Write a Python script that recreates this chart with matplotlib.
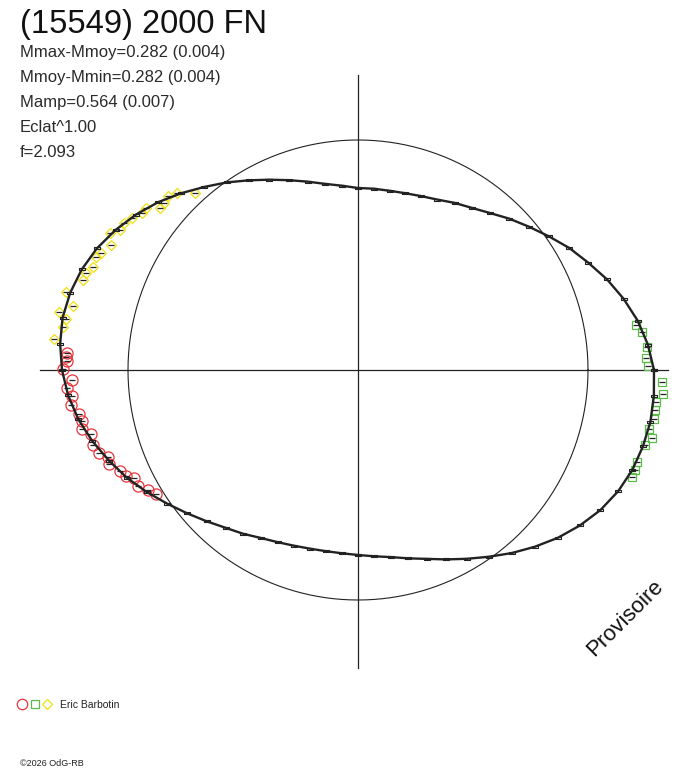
import numpy as np
import matplotlib
matplotlib.use("Agg")
import matplotlib.pyplot as plt
from matplotlib.path import Path

plt.rcParams['font.family'] = ['Liberation Sans', 'DejaVu Sans']

# ---------------- data ----------------
title = "(15549) 2000 FN"
info_lines = ["Mmax-Mmoy=0.282 (0.004)", "Mmoy-Mmin=0.282 (0.004)",
              "Mamp=0.564 (0.007)", "Eclat^1.00", "f=2.093"]
observer = "Eric Barbotin"
copyright_txt = "\u00a92026 OdG-RB"
watermark = "Provisoire"

ref_radius = 230.0  # mean-magnitude reference circle (plot units)

# fitted lightcurve: phase angle (deg) and radius (plot units)
curve_phase = np.arange(0, 360, 5)
curve_radius = [296, 291, 284, 275, 265, 254, 244, 233, 223, 214, 205, 198,
                193, 188, 185, 183, 182, 182, 182, 185, 189, 195, 202, 210,
                219, 229, 239, 250, 261, 271, 280, 288, 294, 298, 300, 299,
                296, 291, 284, 275, 265, 255, 244, 233, 223, 214, 206, 200,
                194, 190, 187, 185, 184, 184, 185, 187, 190, 195, 201, 209,
                218, 228, 239, 250, 261, 271, 280, 287, 292, 295, 297, 297]

# session 1 (red circles)
red_phase = [176.7, 177.5, 178.2, 179.8, 182.0, 183.5, 185.2, 187.0, 189.0,
             190.5, 192.1, 193.5, 195.8, 197.8, 199.2, 200.7, 203.0, 204.6,
             205.7, 207.8, 209.7, 211.5]
red_radius = [291.5, 292.3, 291.1, 295.0, 286.2, 291.6, 287.2, 289.1, 282.4,
              280.7, 282.2, 274.6, 275.4, 272.0, 264.7, 266.2, 258.5, 255.1,
              248.7, 248.7, 241.9, 237.0]

# session 2 (green squares)
green_phase = [9.2, 7.6, 4.6, 2.4, 0.8, 357.7, 355.5, 353.9, 352.3, 350.6,
               348.5, 347.0, 345.4, 341.7, 340.1, 338.7]
green_radius = [281.6, 286.5, 289.9, 288.2, 290.0, 304.2, 305.9, 299.7, 299.7,
                300.0, 296.9, 301.8, 296.6, 293.8, 294.5, 294.2]

# session 3 (yellow diamonds)
yellow_phase = [174.2, 171.7, 170.1, 169.0, 167.3, 165.0, 161.9, 160.4, 158.8,
                156.7, 155.5, 153.2, 151.1, 149.5, 147.9, 146.1, 144.0, 142.6,
                140.7, 139.3, 137.5, 135.6, 132.6]
yellow_radius = [305.6, 298.1, 296.4, 304.6, 292.1, 302.2, 289.4, 288.8, 284.3,
                 285.3, 282.4, 276.8, 283.3, 276.1, 276.3, 272.4, 267.0, 266.8,
                 255.8, 256.0, 257.6, 253.2, 240.6]


def to_xy(phase, radius):
    t = np.deg2rad(np.asarray(phase, dtype=float))
    r = np.asarray(radius, dtype=float)
    return r * np.cos(t), r * np.sin(t)


# ---------------- figure ----------------
W, H = 688, 768
fig = plt.figure(figsize=(W / 100, H / 100), dpi=100)
fig.patch.set_facecolor('white')
ax = fig.add_axes([0, 0, 1, 1])
cx, cy = 358, 370
ax.set_xlim(-cx, W - cx)
ax.set_ylim(-(H - cy), cy)
ax.set_aspect('equal')
ax.axis('off')

dark = '#222222'
# axes cross
ax.plot([40 - cx, 668 - cx], [0, 0], color=dark, lw=0.9, zorder=1)
ax.plot([0, 0], [cy - 668, cy - 75], color=dark, lw=0.9, zorder=1)

# reference circle
th = np.linspace(0, 2 * np.pi, 721)
ax.plot(ref_radius * np.cos(th), ref_radius * np.sin(th), color=dark, lw=0.8, zorder=1)

# observations (coloured)
red_c, green_c, yellow_c = '#e8343a', '#5cbb48', '#f0e010'
xr, yr = to_xy(red_phase, red_radius)
xg, yg = to_xy(green_phase, green_radius)
xy_, yy_ = to_xy(yellow_phase, yellow_radius)
ax.plot(xr, yr, ls='none', marker='o', ms=8, mfc='none', mec=red_c, mew=0.9, zorder=2)
ax.plot(xg, yg, ls='none', marker='s', ms=5.8, mfc='none', mec=green_c, mew=0.9, zorder=2)
ax.plot(xy_, yy_, ls='none', marker='D', ms=5.4, mfc='none', mec=yellow_c, mew=0.9, zorder=2)
for xx, yy in ((xr, yr), (xg, yg), (xy_, yy_)):
    ax.plot(xx, yy, ls='none', marker='_', ms=4, mec=dark, mew=0.9, zorder=3)

# fitted curve with dense dark data marks
xc, yc = to_xy(curve_phase, curve_radius)
xc = np.append(xc, xc[0])
yc = np.append(yc, yc[0])
ax.plot(xc, yc, color=dark, lw=1.7, zorder=3)
rect = Path([(-1, -0.4), (1, -0.4), (1, 0.4), (-1, 0.4), (-1, -0.4)])
ax.plot(xc, yc, ls='none', marker=rect, ms=5, mfc='none', mec=dark, mew=0.8, zorder=3)

# ---------------- texts ----------------
def ftext(x, y, s, **kw):
    fig.text(x / W, 1 - y / H, s, **kw)

ftext(20, 33, title, fontsize=23.5, va='baseline', ha='left', color='#111111')
for i, s in enumerate(info_lines):
    ftext(20, 57 + 25 * i, s, fontsize=12, va='baseline', ha='left', color='#2a2a2a')

ftext(625, 618, watermark, fontsize=16, rotation=45, ha='center', va='center',
      color='#111111', rotation_mode='anchor')

# legend
lx = [22, 35, 47]
ly = 704
leg_ax = fig.add_axes([0, 0, 1, 1], facecolor='none')
leg_ax.set_xlim(0, W)
leg_ax.set_ylim(H, 0)
leg_ax.axis('off')
leg_ax.plot(lx[0], ly, marker='o', ms=7.5, mfc='none', mec=red_c, mew=0.9)
leg_ax.plot(lx[1], ly, marker='s', ms=5.5, mfc='none', mec=green_c, mew=0.9)
leg_ax.plot(lx[2], ly, marker='D', ms=5.2, mfc='none', mec=yellow_c, mew=0.9)
ftext(60, 708, observer, fontsize=7.5, va='baseline', ha='left', color='#222222')
ftext(20, 766, copyright_txt, fontsize=6.5, va='baseline', ha='left', color='#222222')

fig.savefig('out.png', dpi=100, facecolor='white')
